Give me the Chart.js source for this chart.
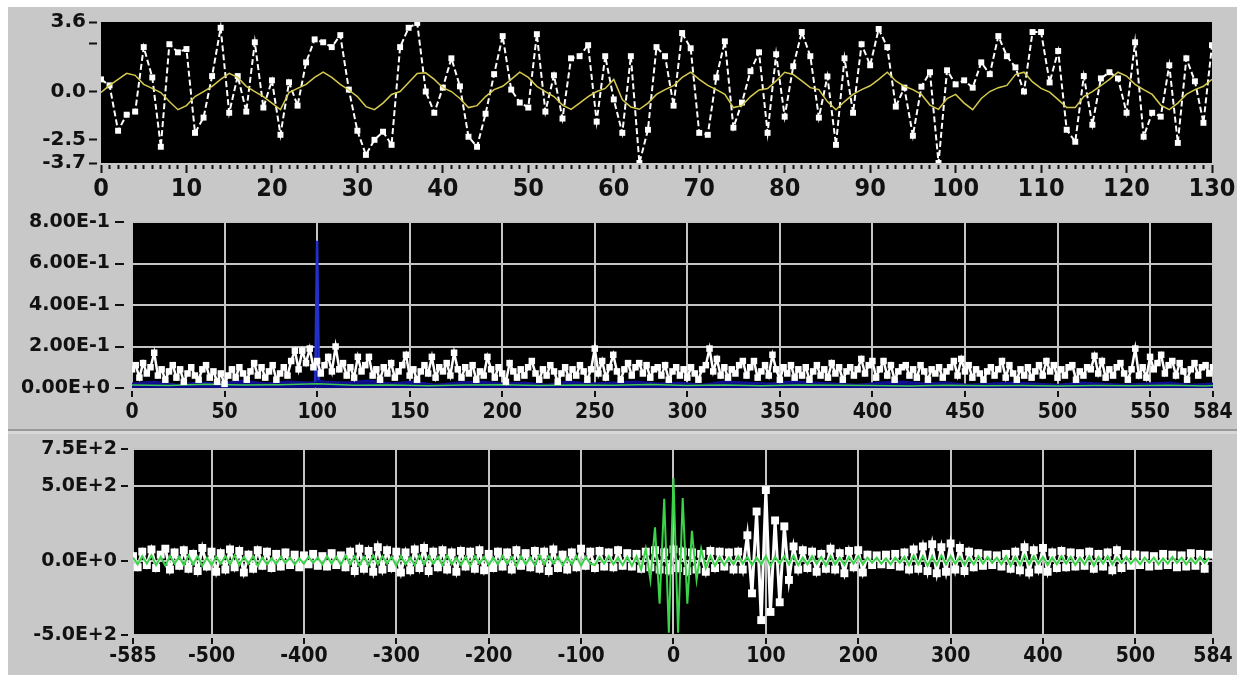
<!DOCTYPE html>
<html>
<head>
<meta charset="utf-8">
<script src="https://cdn.jsdelivr.net/npm/chart.js@4.4.1/dist/chart.umd.min.js"></script>
<style>
  html, body { margin: 0; padding: 0; background: #fff; overflow: hidden; }
  #frame { position: absolute; left: 8px; top: 7px; width: 1229px; height: 668px; background: #c8c8c8; }
  #sepDark { position: absolute; left: 8px; top: 429px; width: 1229px; height: 2px; background: #9a9a9a; }
  #sepLight { position: absolute; left: 8px; top: 431px; width: 1229px; height: 3px; background: #d8d8d8; }
  canvas { position: absolute; left: 0; }
</style>
</head>
<body>
<div id="frame"></div>
<div id="sepDark"></div>
<div id="sepLight"></div>
<canvas id="sig" width="1237" height="200" style="top:0"></canvas>
<canvas id="spec" width="1237" height="229" style="top:200px"></canvas>
<canvas id="corr" width="1237" height="244" style="top:431px"></canvas>
<script>
// ---- pannello 1: segnale (0..130) ----
const sigWhite = [
  0.63, 0.32, -2.03, -1.2, -1.04, 2.3, 0.73, -2.86, 2.45, 2.03,
  2.2, -2.14, -1.35, 0.8, 3.3, -1.1, 0.8, -1.04, 2.55, -0.83,
  0.58, -2.24, 0.48, -0.73, 1.51, 2.7, 2.55, 2.3, 2.92, 0.1,
  -2.03, -3.28, -2.5, -2.08, -2.76, 2.3, 3.3, 3.55, 0.0, -1.1,
  0.2, 1.72, 0.27, -2.34, -2.86, -1.15, 0.9, 2.87, 0.1, -0.57,
  -0.83, 2.97, -1.04, 0.84, -1.4, 1.72, 1.83, 2.4, -1.56, 1.83,
  -0.41, -2.14, 1.83, -3.7, -1.98, 2.3, 1.83, -0.73, 3.03, 2.24,
  -2.14, -2.24, 0.73, 2.6, -1.87, -0.57, 1.05, 2.03, -2.14, 1.93,
  -1.3, 1.31, 3.08, 1.83, -1.35, 0.78, -2.76, 1.72, -1.1, 2.45,
  1.36, 3.24, 2.3, -0.78, 0.2, -2.29, 0.25, 1.0, -3.7, 1.1,
  0.37, 0.58, 0.2, 1.51, 0.9, 2.87, 1.83, 1.25, 0.0, 3.08,
  3.08, 0.47, 2.1, -1.98, -2.6, 0.8, -1.72, 0.68, 1.0, 0.68,
  -1.1, 2.55, -2.34, -1.1, -1.3, 1.36, -2.66, 1.72, 0.53, -1.62,
  2.4
];
const sigYellow = [
  -0.05, 0.32, 0.63, 0.94, 0.84, 0.37, 0.16, -0.05, -0.52, -0.94,
  -0.73, -0.26, 0.0, 0.27, 0.63, 0.94, 0.73, 0.27, 0.0, -0.26,
  -0.6, -0.94, -0.05, 0.16, 0.37, 0.73, 1.0, 0.73, 0.37, 0.08,
  -0.26, -0.78, -0.94, -0.6, -0.15, 0.0, 0.47, 0.94, 0.97, 0.63,
  0.2, 0.0, -0.36, -0.83, -0.73, -0.26, 0.1, 0.27, 0.63, 1.0,
  0.73, 0.27, 0.0, -0.26, -0.7, -0.92, -0.6, -0.26, 0.0, 0.16,
  0.63, -0.42, -0.8, -0.92, -0.6, -0.15, 0.1, 0.3, 0.73, 1.0,
  0.63, 0.32, 0.1, -0.15, -0.83, -0.73, -0.26, 0.08, 0.16, 0.55,
  1.0, 0.88, 0.55, 0.2, 0.1, -0.52, -0.94, -0.52, -0.15, 0.1,
  0.3, 0.63, 1.0, 0.55, 0.27, 0.1, -0.15, -0.7, -0.92, -0.36,
  -0.15, -0.6, -0.94, -0.36, 0.0, 0.2, 0.32, 0.88, 1.0, 0.5,
  0.16, -0.03, -0.42, -0.83, -0.83, -0.26, 0.0, 0.3, 0.63, 1.0,
  0.8, 0.37, 0.1, -0.15, -0.7, -0.94, -0.6, -0.15, 0.1, 0.27,
  0.63
];
const sigYTicks = [-3.7, -2.5, 0, 2.5, 3.6];
const sigYLabels = ['-3.7', '-2.5', '0.0', '', '3.6'];

// ---- pannello 2: spettro (0..584) ----
const specStep = 2;
const specWhite = [
  0.09, 0.11, 0.05, 0.12, 0.07, 0.1, 0.17, 0.06, 0.09, 0.04, 0.08, 0.11, 0.05, 0.09, 0.03, 0.07, 0.1, 0.06, 0.04, 0.09,
  0.11, 0.05, 0.08, 0.03, 0.07, 0.02, 0.06, 0.09, 0.05, 0.1, 0.07, 0.04, 0.08, 0.12, 0.06, 0.1, 0.05, 0.08, 0.11, 0.04,
  0.07, 0.1, 0.06, 0.13, 0.18, 0.09, 0.18, 0.12, 0.19, 0.1, 0.13, 0.07, 0.11, 0.15, 0.08, 0.2, 0.09, 0.12, 0.06, 0.1,
  0.05, 0.15, 0.08, 0.11, 0.15, 0.06, 0.09, 0.04, 0.1, 0.07, 0.12, 0.05, 0.08, 0.11, 0.16, 0.06, 0.09, 0.04, 0.08, 0.11,
  0.07, 0.15, 0.05, 0.1, 0.08, 0.12, 0.06, 0.17, 0.09, 0.05, 0.1, 0.07, 0.11, 0.04, 0.08, 0.06, 0.15, 0.09, 0.05, 0.1,
  0.07, 0.03, 0.12, 0.08, 0.05, 0.09, 0.06, 0.1, 0.13, 0.07, 0.04, 0.09, 0.06, 0.11, 0.08, 0.03, 0.07, 0.1, 0.05, 0.09,
  0.06, 0.11, 0.08, 0.04, 0.09, 0.19, 0.07, 0.13, 0.05, 0.1, 0.16, 0.08, 0.04, 0.09, 0.12, 0.06, 0.1, 0.12, 0.07, 0.11,
  0.05, 0.09, 0.1, 0.06, 0.11, 0.04, 0.08, 0.1, 0.06, 0.09, 0.05, 0.1, 0.07, 0.04, 0.09, 0.11, 0.19, 0.08, 0.14, 0.06,
  0.1, 0.05, 0.09, 0.07, 0.11, 0.13, 0.06, 0.1, 0.13, 0.05, 0.08, 0.11, 0.06, 0.16, 0.09, 0.04, 0.1, 0.07, 0.11, 0.05,
  0.09, 0.06, 0.1, 0.04, 0.08, 0.11, 0.06, 0.09, 0.05, 0.12, 0.07, 0.1, 0.04, 0.08, 0.1, 0.06, 0.09, 0.14, 0.07, 0.11,
  0.13, 0.05, 0.09, 0.13, 0.06, 0.11, 0.04, 0.08, 0.1, 0.11, 0.06, 0.09, 0.05, 0.11, 0.08, 0.04, 0.09, 0.07, 0.1, 0.05,
  0.08, 0.1, 0.13, 0.06, 0.14, 0.08, 0.11, 0.05, 0.09, 0.07, 0.04, 0.08, 0.1, 0.06, 0.09, 0.13, 0.05, 0.11, 0.07, 0.04,
  0.09, 0.06, 0.1, 0.05, 0.08, 0.11, 0.06, 0.13, 0.08, 0.11, 0.05, 0.09, 0.06, 0.1, 0.11, 0.04, 0.08, 0.06, 0.1, 0.09,
  0.155, 0.07, 0.13, 0.05, 0.09, 0.06, 0.1, 0.12, 0.07, 0.04, 0.09, 0.19, 0.06, 0.1, 0.05, 0.15, 0.09, 0.12, 0.16, 0.07,
  0.11, 0.13, 0.06, 0.12, 0.08, 0.04, 0.09, 0.12, 0.06, 0.1, 0.11, 0.07, 0.1
];
const specBlueX = [0, 12, 24, 36, 48, 60, 72, 84, 96, 99, 100, 101, 104, 116, 128, 140, 152, 164, 176, 188,
  200, 212, 224, 236, 248, 260, 272, 284, 296, 308, 320, 332, 344, 356, 368, 380, 392, 404, 416, 428,
  440, 452, 464, 476, 488, 500, 512, 524, 536, 548, 560, 572, 584];
const specBlue = [
  0.02, 0.03, 0.015, 0.025, 0.02, 0.035, 0.02, 0.03, 0.025, 0.03,
  0.71, 0.035, 0.03, 0.025, 0.035, 0.02, 0.03, 0.015, 0.025, 0.03,
  0.02, 0.025, 0.015, 0.03, 0.02, 0.025, 0.03, 0.02, 0.025, 0.015,
  0.03, 0.025, 0.02, 0.03, 0.025, 0.02, 0.015, 0.025, 0.03, 0.02,
  0.025, 0.015, 0.02, 0.025, 0.02, 0.015, 0.025, 0.02, 0.015, 0.02,
  0.025, 0.015, 0.02
];
const specGreenX = [0, 20, 40, 60, 80, 100, 120, 140, 160, 180, 200, 220, 240, 260, 280, 300, 320, 340, 360, 380,
  400, 420, 440, 460, 480, 500, 520, 540, 560, 580, 584];
const specGreen = [0.015, 0.012, 0.018, 0.014, 0.016, 0.02, 0.013, 0.015, 0.011, 0.014, 0.016, 0.012, 0.015, 0.013, 0.017,
  0.012, 0.014, 0.011, 0.015, 0.013, 0.012, 0.01, 0.013, 0.011, 0.012, 0.01, 0.012, 0.011, 0.013, 0.01, 0.012];
const specXTicks = [0, 50, 100, 150, 200, 250, 300, 350, 400, 450, 500, 550, 584];
const specYTicks = [0, 0.2, 0.4, 0.6, 0.8];

// ---- pannello 3: correlazione (-585..584) ----
const lagStart = -585, lagStep = 5;
const corrWhite = [
  30, -45, 60, -30, 75, -50, 40, 80, -60, 55, -35, 70, -55, 45, -70, 85, -40, 60, -75, 50,
  -60, 75, -45, 65, -80, 40, -55, 70, -35, 60, -50, 45, -40, 55, -30, 40, -45, 35, -25, 45,
  -35, 30, -40, 50, -30, 35, -45, 60, -70, 80, -55, 65, -75, 90, -60, 70, -50, 60, -80, 55,
  -65, 75, -50, 85, -70, 60, -45, 70, -60, 55, -75, 65, -40, 60, -55, 70, -65, 45, -50, 60,
  -40, 55, -60, 70, -35, 50, -45, 65, -55, 60, -70, 75, -50, 40, -60, 55, -45, 80, -35, 60,
  -50, 65, -40, 55, -45, 70, -35, 50, -40, 45, -55, 60, -45, 70, -60, 55, -65, 75, -50, 60,
  -70, 55, -60, 45, -75, 65, -50, 60, -40, 55, -60, 60, -60, 170, -220, 330, -400, 474, -345, 270,
  -280, 230, -130, 95, -60, 70, -50, 60, -75, 45, -55, 80, -60, 50, -85, 65, -45, 70, -80, 40,
  -30, 35, -25, 40, -30, 45, -40, 55, -60, 75, -55, 95, -70, 110, -85, 90, -75, 115, -60, 85,
  -70, 60, -45, 50, -35, 40, -30, 35, -40, 45, -55, 60, -65, 90, -80, 70, -60, 85, -75, 55,
  -50, 65, -45, 55, -40, 50, -35, 60, -55, 45, -40, 55, -65, 70, -50, 45, -35, 40, -30, 35,
  -40, 30, -35, 45, -30, 40, -45, 35, -40, 50, -35, 45, -55, 40
];
const corrGreen = [
  20, -25, 30, -20, 35, -30, 25, -35, 30, -20, 25, -30, 35, -25, 30, -35, 20, -30, 25, -20,
  30, -25, 35, -30, 25, -20, 30, -35, 20, -25, 15, -20, 25, -15, 20, -25, 15, -20, 25, -15,
  20, -25, 30, -20, 25, -30, 35, -25, 30, -35, 25, -30, 35, -25, 30, -20, 25, -35, 30, -25,
  20, -30, 35, -25, 30, -20, 25, -30, 35, -25, 20, -30, 25, -35, 30, -20, 25, -30, 20, -25,
  30, -20, 25, -35, 30, -25, 20, -30, 35, -25, 30, -20, 25, -30, 20, -25, 30, -35, 25, -20,
  -30, 25, -20, 30, -25, 20, -30, 25, -35, 30, -60, 80, -130, 224, -290, 416, -485, 555, -485, 420,
  -290, 200, -130, 80, -50, 30, -35, 25, -30, 20, -25, 30, -20, 25, -30, 20, -25, 30, -35, 25,
  -20, 30, -25, 35, -30, 20, -25, 30, -20, 25, -35, 30, -25, 20, -30, 25, -20, 30, -25, 20,
  -15, 20, -20, 15, -25, 20, -15, 25, -30, 35, -25, 30, -35, 25, -30, 35, -25, 30, -20, 25,
  -30, 20, -25, 30, -20, 25, -15, 20, -25, 30, -35, 25, -30, 35, -25, 30, -20, 25, -30, 20,
  -25, 30, -20, 25, -30, 20, -25, 30, -35, 25, -20, 30, -25, 20, -15, 25, -20, 15, -25, 20,
  -15, 20, -25, 15, -20, 25, -15, 20, -25, 15, -20, 25, -15, 20
];
const corrXTicks = [-585, -500, -400, -300, -200, -100, 0, 100, 200, 300, 400, 500, 584];
const corrYTicks = [-500, 0, 500, 750];

// ---- stile comune ----
Chart.defaults.font.family = "'DejaVu Sans', sans-serif";
Chart.defaults.font.weight = 'bold';
Chart.defaults.color = '#111';

const CW = 1237;
const TXT = '#111';
const XFONT = "'DejaVu Sans Condensed', 'DejaVu Sans', sans-serif";

// sfondo nero dell'area del grafico
const plotBg = {
  id: 'plotBg',
  beforeDraw(chart) {
    const a = chart.chartArea, ctx = chart.ctx;
    ctx.save();
    ctx.fillStyle = '#000';
    ctx.fillRect(a.left, a.top, a.right - a.left, a.bottom - a.top);
    ctx.restore();
  }
};

// blocca larghezza asse y / altezza asse x per posizionare l'area del grafico
const fixY = w => s => { s.width = w; s.paddingTop = 0; s.paddingBottom = 0; };
const fixX = h => s => { s.height = h; s.paddingLeft = 0; s.paddingRight = 0; };
const setTicks = arr => s => { s.ticks = arr.map(v => ({ value: v })); };
const pts = (xs, ys) => ys.map((y, i) => ({ x: xs[i], y }));

function baseOptions(padTop, padRight) {
  return {
    responsive: false,
    animation: false,
    events: [],
    layout: { padding: { top: padTop, right: padRight, left: 0, bottom: 0 } },
    plugins: { legend: { display: false }, tooltip: { enabled: false } },
    elements: { line: { tension: 0 } }
  };
}

// ---- grafico 1 ----
const sigIdx = sigWhite.map((_, i) => i);
const o1 = baseOptions(22, CW - 1212);
o1.scales = {
  x: {
    type: 'linear', min: 0, max: 130,
    afterFit: fixX(37),
    border: { display: false },
    grid: {
      drawOnChartArea: false, tickLength: 10, tickWidth: 2, tickColor: TXT,
      tickBorderDash: c => (c.tick && c.tick.value % 10 === 0) ? [0, 2, 8, 100] : [0, 2, 4, 100]
    },
    ticks: {
      stepSize: 1, autoSkip: false, maxRotation: 0, padding: 1,
      font: { size: 25, family: XFONT },
      callback: v => (v % 10 === 0 ? String(v) : '')
    }
  },
  y: {
    type: 'linear', min: -3.7, max: 3.6,
    afterFit: fixY(101),
    afterBuildTicks: setTicks(sigYTicks),
    border: { display: false },
    grid: { drawOnChartArea: false, tickLength: 12, tickWidth: 2, tickColor: TXT, tickBorderDash: [8, 100] },
    ticks: { padding: 3, font: { size: 20 }, callback: (v, i) => sigYLabels[i] }
  }
};
new Chart(document.getElementById('sig'), {
  type: 'line',
  data: {
    datasets: [
      { data: pts(sigIdx, sigYellow), borderColor: '#d6ca4e', borderWidth: 1.5, pointRadius: 0, order: 0 },
      { data: pts(sigIdx, sigWhite), borderColor: '#ffffff', borderWidth: 2, borderDash: [6, 3],
        pointStyle: 'rect', pointRadius: 4.2, pointBackgroundColor: '#fff', pointBorderWidth: 0, order: 1 }
    ]
  },
  options: o1,
  plugins: [plotBg]
});

// ---- grafico 2 ----
const specIdx = specWhite.map((_, i) => i * specStep);
const o2 = baseOptions(22, CW - 1213);
o2.scales = {
  x: {
    type: 'linear', min: 0, max: 584,
    afterFit: fixX(41),
    afterBuildTicks: setTicks(specXTicks),
    border: { display: false },
    grid: { color: '#c4c4c4', lineWidth: 2, tickLength: 10, tickWidth: 2, tickColor: TXT, tickBorderDash: [0, 3, 6, 100] },
    ticks: { autoSkip: false, maxRotation: 0, padding: 2, font: { size: 21, family: XFONT }, callback: v => String(v) }
  },
  y: {
    type: 'linear', min: 0, max: 0.8,
    afterFit: fixY(132),
    afterBuildTicks: setTicks(specYTicks),
    border: { display: false },
    grid: { color: '#c4c4c4', lineWidth: 2, tickLength: 17, tickWidth: 2, tickColor: TXT, tickBorderDash: [9, 100] },
    ticks: { padding: 5, font: { size: 19 }, callback: v => v.toExponential(2).toUpperCase() }
  }
};
new Chart(document.getElementById('spec'), {
  type: 'line',
  data: {
    datasets: [
      { data: pts(specIdx, specWhite), borderColor: '#ffffff', borderWidth: 2.5,
        pointStyle: 'rect', pointRadius: 4.6, pointBackgroundColor: '#fff', pointBorderWidth: 0, order: 0 },
      { data: pts(specGreenX, specGreen), borderColor: '#3cc850', borderWidth: 1.5, pointRadius: 0, order: 1 },
      { data: pts(specBlueX, specBlue), borderWidth: 2.5, pointRadius: 0,
        segment: { borderColor: c => (c.p0.parsed.y > 0.1 || c.p1.parsed.y > 0.1) ? '#2030c8' : '#10108e' },
        fill: 'origin', backgroundColor: '#0a0a8a', order: 2 }
    ]
  },
  options: o2,
  plugins: [plotBg]
});

// ---- grafico 3 ----
const lagIdx = corrWhite.map((_, i) => lagStart + i * lagStep);
const o3 = baseOptions(18, CW - 1213);
o3.scales = {
  x: {
    type: 'linear', min: -585, max: 584,
    afterFit: fixX(40),
    afterBuildTicks: setTicks(corrXTicks),
    border: { display: false },
    grid: { color: '#c4c4c4', lineWidth: 2, tickLength: 9, tickWidth: 2, tickColor: TXT, tickBorderDash: [0, 3, 6, 100] },
    ticks: { autoSkip: false, maxRotation: 0, padding: 0, font: { size: 21, family: XFONT }, callback: v => String(v) }
  },
  y: {
    type: 'linear', min: -500, max: 750,
    afterFit: fixY(133),
    afterBuildTicks: setTicks(corrYTicks),
    border: { display: false },
    grid: { color: '#c4c4c4', lineWidth: 2, tickLength: 12, tickWidth: 2, tickColor: TXT, tickBorderDash: [7, 100] },
    ticks: { padding: 4, font: { size: 19 }, callback: v => v.toExponential(1).toUpperCase() }
  }
};
new Chart(document.getElementById('corr'), {
  type: 'line',
  data: {
    datasets: [
      { data: pts(lagIdx, corrGreen), borderColor: '#3cd24a', borderWidth: 2, pointRadius: 0, order: 0 },
      { data: pts(lagIdx, corrWhite), borderColor: '#ffffff', borderWidth: 3,
        pointStyle: 'rect', pointRadius: 5.6, pointBackgroundColor: '#fff', pointBorderWidth: 0, order: 1 }
    ]
  },
  options: o3,
  plugins: [plotBg]
});
</script>
</body>
</html>
